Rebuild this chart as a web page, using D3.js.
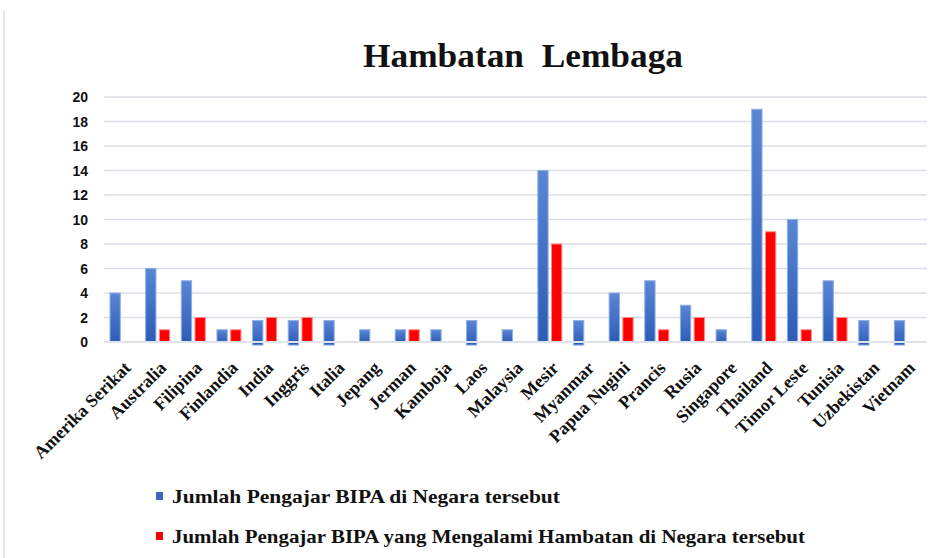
<!DOCTYPE html>
<html>
<head>
<meta charset="utf-8">
<script src="https://cdn.jsdelivr.net/npm/d3@7"></script>
<style>
  body { margin: 0; background: #fff; }
  svg { display: block; }
</style>
</head>
<body>
<div id="chart"></div>
<script>
var countries = ["Amerika Serikat", "Australia", "Filipina", "Finlandia", "India", "Inggris", "Italia",
    "Jepang", "Jerman", "Kamboja", "Laos", "Malaysia", "Mesir", "Myanmar", "Papua Nugini", "Prancis",
    "Rusia", "Singapore", "Thailand", "Timor Leste", "Tunisia", "Uzbekistan", "Vietnam"];
// blue series: top of bar, and where the bar starts (some bars dip under the axis in the picture)
var pengajar = [4, 6, 5, 1, 1.75, 1.75, 1.75, 1, 1, 1, 1.75, 1, 14, 1.75, 4, 5, 3, 1, 19, 10, 5, 1.75, 1.75];
var pengajarBase = [0, 0, 0, 0, -0.25, -0.25, -0.25, 0, 0, 0, -0.25, 0, 0, -0.25, 0, 0, 0, 0, 0, 0, 0, -0.25, -0.25];
var hambatan = [0, 1, 2, 1, 2, 2, 0, 0, 1, 0, 0, 0, 8, 0, 2, 1, 2, 0, 9, 1, 2, 0, 0];
var yTicks = [0, 2, 4, 6, 8, 10, 12, 14, 16, 18, 20];
var legendLabels = ["Jumlah Pengajar BIPA di Negara tersebut",
    "Jumlah Pengajar BIPA yang Mengalami Hambatan di Negara tersebut"];

const W = 933, H = 558;
const SERIF = "'Liberation Serif', 'Times New Roman', serif";

var svg = d3.select("#chart").append("svg")
    .attr("width", W)
    .attr("height", H);

var defs = svg.append("defs");
var grad = defs.append("linearGradient")
    .attr("id", "blueGrad")
    .attr("x1", 0).attr("y1", 0).attr("x2", 0).attr("y2", 1);
grad.append("stop").attr("offset", "0%").attr("stop-color", "#5b86d6");
grad.append("stop").attr("offset", "100%").attr("stop-color", "#2c5cb6");

// faint frame edge on the left
svg.append("line")
    .attr("x1", 4).attr("x2", 4)
    .attr("y1", 10).attr("y2", H)
    .attr("stroke", "#e4e6ee")
    .attr("stroke-width", 2);

var x = d3.scaleBand()
    .domain(countries)
    .range([105, 925]);

var x1 = d3.scaleBand()
    .domain(["pengajar", "hambatan"])
    .range([5, 29])
    .paddingInner(0.25);

var y = d3.scaleLinear()
    .domain([0, 20])
    .range([342, 97]);

// gridlines
svg.append("g")
    .selectAll("line")
    .data(yTicks.filter(function (d) { return d > 0; }))
    .enter()
    .append("line")
    .attr("x1", 104).attr("x2", 927)
    .attr("y1", function (d) { return y(d); })
    .attr("y2", function (d) { return y(d); })
    .attr("stroke", "#dadfe7")
    .attr("stroke-width", 1.5);

// y tick labels
svg.append("g")
    .selectAll("text")
    .data(yTicks)
    .enter()
    .append("text")
    .attr("x", 88)
    .attr("y", function (d) { return y(d); })
    .attr("dy", "0.36em")
    .attr("text-anchor", "end")
    .attr("font-family", "'Liberation Sans', Arial, sans-serif")
    .attr("font-weight", "bold")
    .attr("font-size", 14)
    .attr("fill", "#111")
    .text(function (d) { return d; });

var groups = svg.append("g")
    .selectAll("g")
    .data(countries)
    .enter()
    .append("g")
    .attr("transform", function (d) { return "translate(" + x(d) + ",0)"; });

groups.append("rect")
    .attr("x", x1("pengajar"))
    .attr("width", x1.bandwidth())
    .attr("y", function (d, i) { return y(pengajar[i]); })
    .attr("height", function (d, i) { return y(pengajarBase[i]) - y(pengajar[i]); })
    .attr("fill", "url(#blueGrad)")
    .attr("stroke", "#8eaee6")
    .attr("stroke-width", 1);

groups.filter(function (d, i) { return hambatan[i] > 0; })
    .append("rect")
    .attr("x", x1("hambatan"))
    .attr("width", x1.bandwidth())
    .attr("y", function (d) { return y(hambatan[countries.indexOf(d)]); })
    .attr("height", function (d) { return y(0) - y(hambatan[countries.indexOf(d)]); })
    .attr("fill", "#ff0000")
    .attr("stroke", "#ff8a8a")
    .attr("stroke-width", 1);

// zero line drawn over the bars
svg.append("line")
    .attr("x1", 104).attr("x2", 927)
    .attr("y1", y(0)).attr("y2", y(0))
    .attr("stroke", "#dfe4ec")
    .attr("stroke-width", 2);

// category labels
svg.append("g")
    .selectAll("text")
    .data(countries)
    .enter()
    .append("text")
    .attr("transform", function (d) {
        return "translate(" + (x(d) + x.bandwidth() / 2 + 9) + ",369) rotate(-45)";
    })
    .attr("text-anchor", "end")
    .attr("font-family", SERIF)
    .attr("font-weight", "bold")
    .attr("font-size", 18)
    .attr("fill", "#111")
    .text(function (d) { return d; });

// title
svg.append("text")
    .attr("x", 363)
    .attr("y", 67)
    .attr("font-family", SERIF)
    .attr("font-weight", "bold")
    .attr("font-size", 34)
    .attr("textLength", 320)
    .attr("lengthAdjust", "spacingAndGlyphs")
    .style("white-space", "pre")
    .attr("fill", "#111")
    .text("Hambatan  Lembaga");

// legend
var legendColors = ["#3a67c2", "#ff0000"];
var legendWidths = [388, 633];
var legend = svg.append("g")
    .selectAll("g")
    .data(legendLabels)
    .enter()
    .append("g")
    .attr("transform", function (d, i) { return "translate(156," + (496 + i * 40) + ")"; });

legend.append("rect")
    .attr("x", 0).attr("y", -4)
    .attr("width", 7).attr("height", 8)
    .attr("fill", function (d, i) { return legendColors[i]; });

legend.append("text")
    .attr("x", 16)
    .attr("y", 0)
    .attr("dy", "0.35em")
    .attr("font-family", SERIF)
    .attr("font-weight", "bold")
    .attr("font-size", 19)
    .attr("textLength", function (d, i) { return legendWidths[i]; })
    .attr("lengthAdjust", "spacingAndGlyphs")
    .attr("fill", "#111")
    .text(function (d) { return d; });
</script>
</body>
</html>
